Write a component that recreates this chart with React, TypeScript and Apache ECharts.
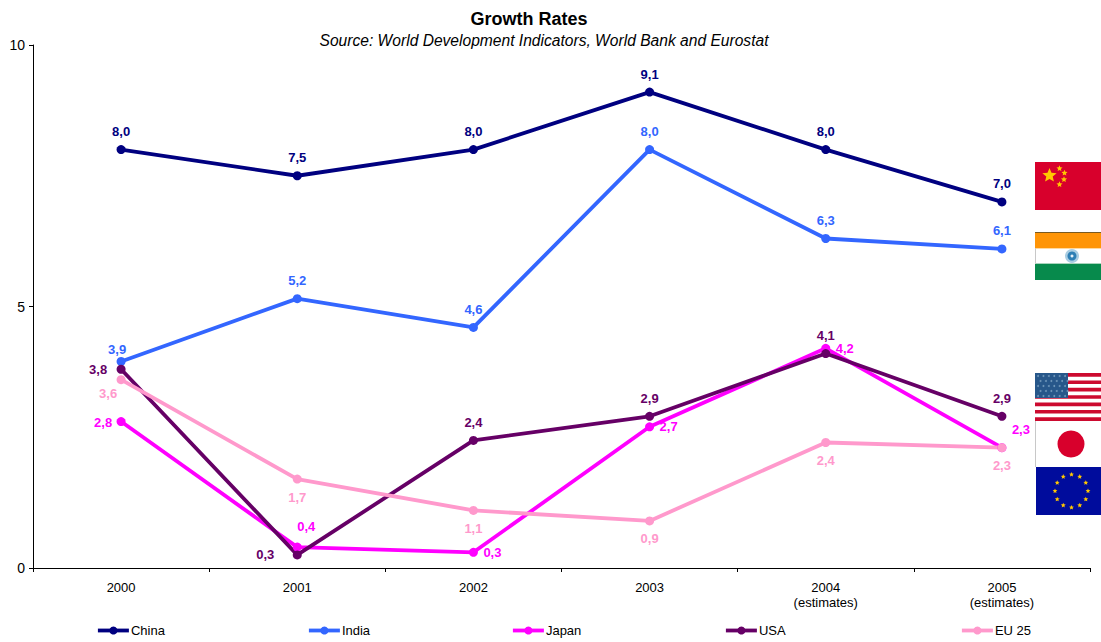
import React, { useEffect, useRef } from "react";
import * as echarts from "echarts";

const categories = ["2000", "2001", "2002", "2003", "2004\n(estimates)", "2005\n(estimates)"];
const china = [8.0, 7.5, 8.0, 9.1, 8.0, 7.0];
const india = [3.95, 5.15, 4.6, 8.0, 6.3, 6.1];
const japan = [2.8, 0.4, 0.3, 2.7, 4.2, 2.3];
const usa = [3.8, 0.25, 2.44, 2.9, 4.1, 2.9];
const eu25 = [3.6, 1.7, 1.1, 0.9, 2.4, 2.3];

const chinaLabels = ["8,0", "7,5", "8,0", "9,1", "8,0", "7,0"];
const indiaLabels = ["3,9", "5,2", "4,6", "8,0", "6,3", "6,1"];
const japanLabels = ["2,8", "0,4", "0,3", "2,7", "4,2", "2,3"];
const usaLabels = ["3,8", "0,3", "2,4", "2,9", "4,1", "2,9"];
const euLabels = ["3,6", "1,7", "1,1", "0,9", "2,4", "2,3"];

const seriesNames = ["China", "India", "Japan", "USA", "EU 25"];
const legendLefts = [96, 307, 511, 724, 960];

// label offset from each point, relative to the centre of the mark
const up: number[] = [0, -18];
const down: number[] = [0, 18];
const chinaOffsets = [up, up, up, up, up, up];
const indiaOffsets = [[-4, -12], up, up, up, up, up];
const japanOffsets = [[-18, 1], [9, -21], [19, 0], [19, 0], [19, 0], [19, -18]];
const usaOffsets = [[-23, 0], [-32, 0], up, up, up, up];
const euOffsets = [[-13, 14], down, down, down, down, down];

const FONT = "Liberation Sans, Arial, sans-serif";

function star(cx: number, cy: number, r: number, fill = "#FFC800") {
  const pts: number[][] = [];
  for (let i = 0; i < 10; i++) {
    const a = -Math.PI / 2 + (i * Math.PI) / 5;
    const rr = i % 2 === 0 ? r : r * 0.45;
    pts.push([cx + rr * Math.cos(a), cy + rr * Math.sin(a)]);
  }
  return { type: "polygon", silent: true, shape: { points: pts }, style: { fill } };
}

const rect = (x: number, y: number, width: number, height: number, fill: string) => ({
  type: "rect",
  silent: true,
  shape: { x, y, width, height },
  style: { fill },
});

function flags() {
  const x = 1035;
  const w = 66;
  const out: any[] = [];
  // China
  out.push(rect(x, 162, w, 48, "#D8002C"));
  out.push(star(1049.5, 175.5, 7.5));
  out.push(star(1059.5, 168.5, 3.2));
  out.push(star(1064.5, 173, 3.2));
  out.push(star(1064, 179.5, 3.2));
  out.push(star(1059.5, 184.5, 3.2));
  // India
  out.push(rect(x, 232, w, 16, "#FF9507"));
  out.push(rect(x, 248, w, 1, "#FFD9A0"));
  out.push(rect(x, 249, w, 14, "#FFFFFF"));
  out.push(rect(x, 263, w, 1, "#A8D4BC"));
  out.push(rect(x, 264, w, 16, "#078A4C"));
  out.push(rect(x, 232, w, 1, "#7A5A20"));
  out.push(rect(x, 248, 1, 16, "#C8C8C8"));
  out.push({ type: "circle", silent: true, shape: { cx: 1072, cy: 256, r: 7 }, style: { fill: "#A9CDE2" } });
  out.push({ type: "circle", silent: true, shape: { cx: 1072, cy: 256, r: 4.5 }, style: { fill: "#2E7FB5" } });
  out.push({ type: "circle", silent: true, shape: { cx: 1072, cy: 256, r: 1.5 }, style: { fill: "#E6F0F6" } });
  // USA
  out.push(rect(x, 373, w, 48, "#FFFFFF"));
  for (let i = 0; i < 7; i++) out.push(rect(x, 373 + i * 7.38, w, 3.7, "#CC0A2F"));
  out.push(rect(x, 373, 33, 25, "#27578A"));
  for (let r = 0; r < 5; r++)
    for (let c = 0; c < 6; c++)
      out.push({
        type: "circle",
        silent: true,
        shape: { cx: x + 3 + c * 5.4 + (r % 2 ? 2.5 : 0), cy: 376 + r * 5, r: 1 },
        style: { fill: "#6C94B8" },
      });
  // Japan
  out.push(rect(x, 421, w, 46, "#FFFFFF"));
  out.push(rect(x, 421, 1, 46, "#C8C8C8"));
  out.push({ type: "circle", silent: true, shape: { cx: 1071, cy: 444, r: 13.5 }, style: { fill: "#D8002C" } });
  // EU
  out.push(rect(x + 1, 467, w, 48, "#000C9C"));
  for (let i = 0; i < 12; i++) {
    const a = (i * Math.PI) / 6;
    out.push(star(1071.5 + 16.5 * Math.cos(a), 491 + 16.5 * Math.sin(a), 2.6));
  }
  return out;
}

function makeSeries(name: string, color: string, values: number[], labels: string[], offsets: number[][]) {
  return {
    name,
    type: "line",
    data: values.map((value, i) => ({
      value,
      label: { formatter: labels[i], offset: offsets[i] },
    })),
    symbol: "circle",
    symbolSize: 9,
    showSymbol: true,
    lineStyle: { color, width: 3.8 },
    itemStyle: { color },
    label: {
      show: true,
      position: "inside",
      color,
      fontFamily: FONT,
      fontSize: 13,
      fontWeight: "bold",
    },
  };
}

export default function App() {
  const ref = useRef<HTMLDivElement>(null);
  useEffect(() => {
    document.body.style.margin = "0";
    const chart = echarts.init(ref.current!, undefined, { renderer: "svg" });
    chart.setOption({
      animation: false,
      backgroundColor: "#FFFFFF",
      title: [
        {
          text: "Growth Rates",
          left: 529,
          top: 10,
          padding: 0,
          textAlign: "center",
          textStyle: { fontFamily: FONT, fontSize: 18, fontWeight: "bold", color: "#000" },
        },
        {
          text: "Source: World Development Indicators, World Bank and Eurostat",
          left: 544,
          top: 32,
          padding: 0,
          textAlign: "center",
          textStyle: { fontFamily: FONT, fontSize: 15.6, fontStyle: "italic", fontWeight: "normal", color: "#000" },
        },
      ],
      grid: { left: 33, right: 11, top: 45, bottom: 74 },
      xAxis: {
        type: "category",
        data: categories,
        boundaryGap: true,
        axisLine: { lineStyle: { color: "#000", width: 1 } },
        axisTick: { show: true, length: 4, lineStyle: { color: "#000" } },
        axisLabel: { color: "#000", fontFamily: FONT, fontSize: 13, margin: 12, lineHeight: 15 },
        splitLine: { show: false },
      },
      yAxis: {
        type: "value",
        min: 0,
        max: 10,
        interval: 5,
        axisLine: { show: true, lineStyle: { color: "#000", width: 1 } },
        axisTick: { show: true, length: 4, lineStyle: { color: "#000" } },
        axisLabel: { color: "#000", fontFamily: FONT, fontSize: 14, margin: 8 },
        splitLine: { show: false },
      },
      legend: seriesNames.map((name, i) => ({
        left: legendLefts[i],
        top: 624,
        itemWidth: 31,
        itemHeight: 10,
        padding: 0,
        lineStyle: { width: 3.8 },
        textStyle: { color: "#000", fontFamily: FONT, fontSize: 13, padding: [4, 0, 0, -3] },
        data: [name],
      })),
      series: [
        makeSeries("China", "#000080", china, chinaLabels, chinaOffsets),
        makeSeries("India", "#3366FF", india, indiaLabels, indiaOffsets),
        makeSeries("Japan", "#FF00FF", japan, japanLabels, japanOffsets),
        makeSeries("USA", "#660066", usa, usaLabels, usaOffsets),
        makeSeries("EU 25", "#FF99CC", eu25, euLabels, euOffsets),
      ],
      graphic: { elements: flags() },
    });
    return () => chart.dispose();
  }, []);
  return <div ref={ref} style={{ position: "absolute", left: 0, top: 0, width: 1101, height: 642 }} />;
}
